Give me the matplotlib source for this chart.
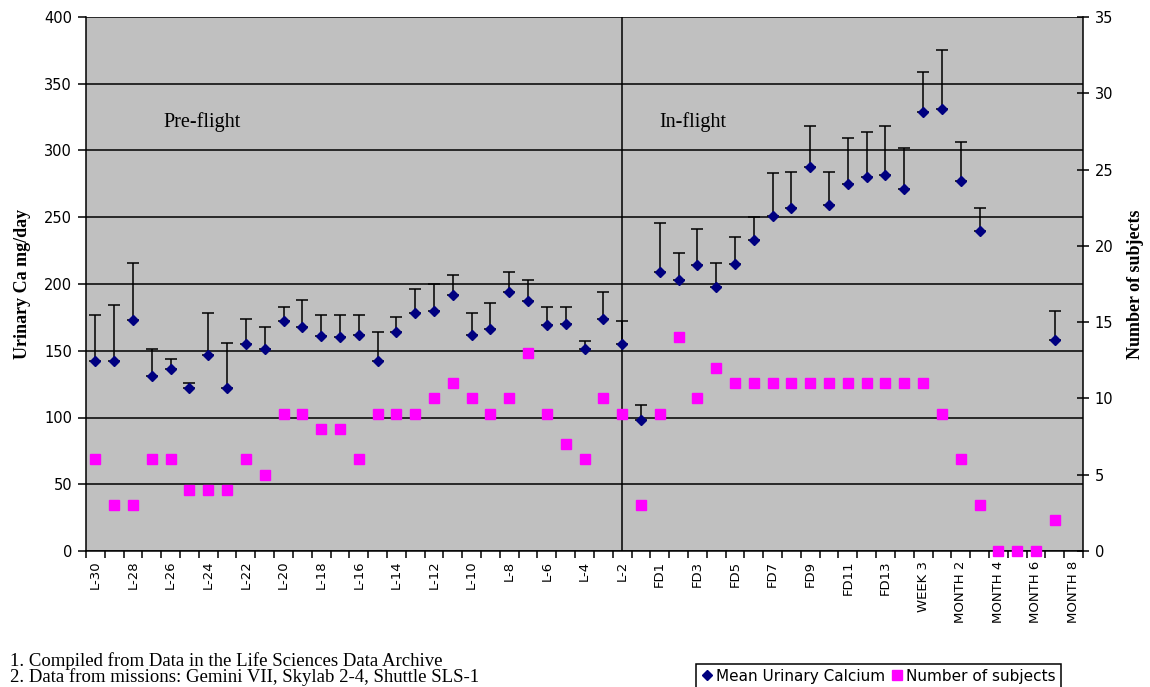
import numpy as np
import matplotlib
matplotlib.use('Agg')
import matplotlib.pyplot as plt
from matplotlib.lines import Line2D

nan = np.nan

days = ['L-30', 'L-29', 'L-28', 'L-27', 'L-26', 'L-25', 'L-24', 'L-23', 'L-22', 'L-21',
        'L-20', 'L-19', 'L-18', 'L-17', 'L-16', 'L-15', 'L-14', 'L-13', 'L-12', 'L-11',
        'L-10', 'L-9', 'L-8', 'L-7', 'L-6', 'L-5', 'L-4', 'L-3', 'L-2', 'L-1',
        'FD1', 'FD2', 'FD3', 'FD4', 'FD5', 'FD6', 'FD7', 'FD8', 'FD9', 'FD10',
        'FD11', 'FD12', 'FD13', 'FD14', 'WEEK 3', 'MONTH 1', 'MONTH 2', 'MONTH 3',
        'MONTH 4', 'MONTH 5', 'MONTH 6', 'MONTH 7', 'MONTH 8']

# mean urinary calcium, mg/day
calcium_mean = [142, 142, 173, 131, 136, 122, 147, 122, 155, 151,
                172, 168, 161, 160, 162, 142, 164, 178, 180, 192,
                162, 166, 194, 187, 169, 170, 151, 174, 155, 98,
                209, 203, 214, 198, 215, 233, 251, 257, 288, 259,
                275, 280, 282, 271, 329, 331, 277, 240,
                nan, nan, nan, 158, nan]
# top of the (one-sided) error bar
calcium_upper = [177, 184, 216, 151, 144, 126, 178, 156, 174, 168,
                 183, 188, 177, 177, 177, 164, 175, 196, 200, 207,
                 178, 186, 209, 203, 183, 183, 157, 194, 172, 109,
                 246, 223, 241, 216, 235, 250, 283, 284, 318, 284,
                 309, 314, 318, 302, 359, 375, 306, 257,
                 nan, nan, nan, 180, nan]

subjects = [6, 3, 3, 6, 6, 4, 4, 4, 6, 5,
            9, 9, 8, 8, 6, 9, 9, 9, 10, 11,
            10, 9, 10, 13, 9, 7, 6, 10, 9, 3,
            9, 14, 10, 12, 11, 11, 11, 11, 11, 11,
            11, 11, 11, 11, 11, 9, 6, 3,
            0, 0, 0, 2, nan]

launch_day = 'L-2'

x = np.arange(len(days))
mean = np.array(calcium_mean, dtype=float)
upper = np.array(calcium_upper, dtype=float)
err = [np.zeros(len(mean)), upper - mean]

fig = plt.figure(figsize=(11.5, 6.87), dpi=100)
ax = fig.add_axes([86 / 1150, 1 - 551 / 687, 997 / 1150, 534 / 687])
ax.set_facecolor('#c0c0c0')

ax.errorbar(x, mean, yerr=err, fmt='none', ecolor='black', elinewidth=1.1,
            capsize=4.3, capthick=1.1, zorder=3)
ax.plot(x, mean, 'D', color='#000080', markersize=5, zorder=4)
ax.axvline(days.index(launch_day), color='black', lw=1.1, zorder=2)

ax.set_ylim(0, 400)
ax.set_yticks(range(0, 401, 50))
ax.set_xlim(-0.5, len(days) - 0.5)
ax.yaxis.grid(True, color='black', lw=1.1)
ax.set_axisbelow(True)

# ticks between categories, labels on every other category
ax.set_xticks(np.arange(len(days) + 1) - 0.5)
ax.set_xticklabels([])
ax.set_xticks(x[::2], minor=True)
ax.set_xticklabels(days[::2], minor=True, rotation=90, fontsize=9.5,
                   family='DejaVu Sans')
ax.tick_params(axis='x', which='major', length=5, width=1.1, direction='out')
ax.tick_params(axis='x', which='minor', length=0, pad=7)
ax.tick_params(axis='y', length=6, width=1.1, direction='out', labelsize=10.5, pad=4)

for side in ['left', 'bottom']:
    ax.spines[side].set_linewidth(1.1)
ax.spines['top'].set_visible(False)
ax.spines['right'].set_visible(False)

ax.set_ylabel('Urinary Ca mg/day', family='Liberation Serif', fontweight='bold',
              fontsize=13, labelpad=9)

ax.text(3.6, 321, 'Pre-flight', family='Liberation Serif', fontsize=14.5, va='center')
ax.text(30.0, 321, 'In-flight', family='Liberation Serif', fontsize=14.5, va='center')

ax2 = ax.twinx()
ax2.plot(x, subjects, 's', color='#ff00ff', markersize=6.5, zorder=5,
         clip_on=False)
ax2.set_ylim(0, 35)
ax2.set_yticks(range(0, 36, 5))
ax2.tick_params(axis='y', length=9, width=1.1, direction='inout', labelsize=10.5, pad=4)
ax2.spines['right'].set_linewidth(1.1)
ax2.spines['top'].set_visible(False)
ax2.spines['left'].set_visible(False)
ax2.spines['bottom'].set_visible(False)
ax2.set_ylabel('Number of subjects', family='Liberation Serif', fontweight='bold',
               fontsize=13, labelpad=10)

handles = [Line2D([], [], ls='none', marker='D', color='#000080', markersize=5),
           Line2D([], [], ls='none', marker='s', color='#ff00ff', markersize=7.5)]
leg = fig.legend(handles, ['Mean Urinary Calcium', 'Number of subjects'], ncol=2,
                 loc='upper left', bbox_to_anchor=(696 / 1150, 1 - 664 / 687),
                 frameon=True, fancybox=False, edgecolor='black', framealpha=1,
                 fontsize=11, handlelength=0.8, handletextpad=0.2,
                 columnspacing=0.4, borderpad=0.3, borderaxespad=0)
leg.get_frame().set_linewidth(1.1)

fig.text(10 / 1150, 1 - 661 / 687, '1. Compiled from Data in the Life Sciences Data Archive',
         family='Liberation Serif', fontsize=13.5, va='center')
fig.text(10 / 1150, 1 - 677 / 687, '2. Data from missions: Gemini VII, Skylab 2-4, Shuttle SLS-1',
         family='Liberation Serif', fontsize=13.5, va='center')

fig.savefig('out.png', dpi=100)
